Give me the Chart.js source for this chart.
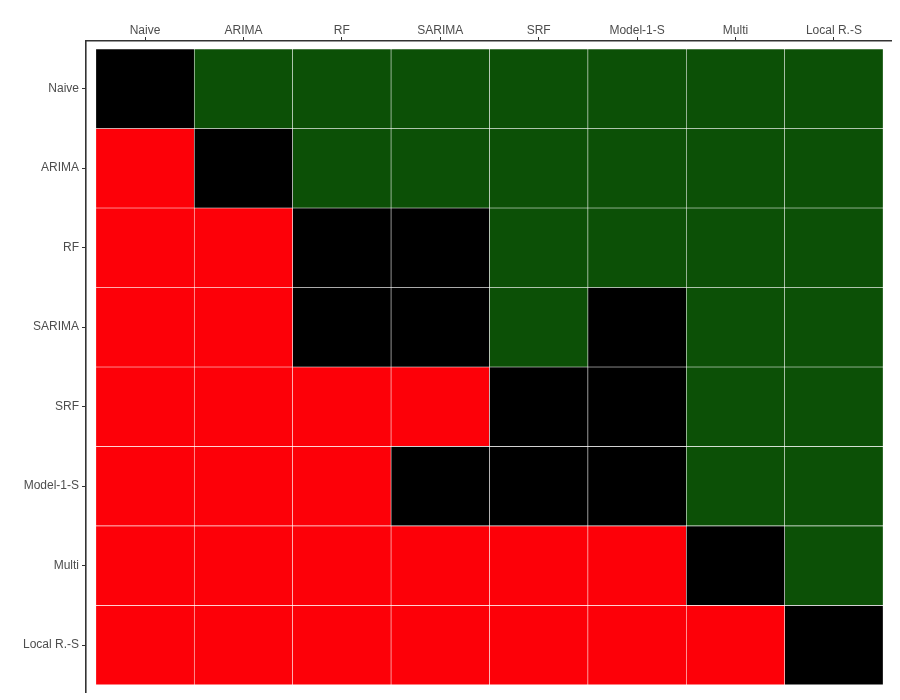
<!DOCTYPE html>
<html>
<head>
<meta charset="utf-8">
<script src="https://cdn.jsdelivr.net/npm/chart.js@4"></script>
<style>
  html, body { margin: 0; padding: 0; background: #fff; }
  #wrap { width: 900px; height: 700px; }
</style>
</head>
<body>
<div id="wrap"><canvas id="heat" width="900" height="700"></canvas></div>
<script>
const models = ['Naive', 'ARIMA', 'RF', 'SARIMA', 'SRF', 'Model-1-S', 'Multi', 'Local R.-S'];

// 1 = row model better (green), -1 = worse (red), 0 = no significant difference (black)
const naiveRow   = [ 0,  1,  1,  1,  1,  1,  1,  1];
const arimaRow   = [-1,  0,  1,  1,  1,  1,  1,  1];
const rfRow      = [-1, -1,  0,  0,  1,  1,  1,  1];
const sarimaRow  = [-1, -1,  0,  0,  1,  0,  1,  1];
const srfRow     = [-1, -1, -1, -1,  0,  0,  1,  1];
const model1sRow = [-1, -1, -1,  0,  0,  0,  1,  1];
const multiRow   = [-1, -1, -1, -1, -1, -1,  0,  1];
const localRow   = [-1, -1, -1, -1, -1, -1, -1,  0];

const matrix = [naiveRow, arimaRow, rfRow, sarimaRow, srfRow, model1sRow, multiRow, localRow];

const colorFor = v => v > 0 ? '#0c5006' : (v < 0 ? '#fd0008' : '#000000');

const datasets = matrix.map((row, r) => ({
  label: models[r],
  data: row.map((v, c) => ({ x: c, y: [r - 0.5, r + 0.5] })),
  backgroundColor: row.map(colorFor),
  borderColor: 'rgba(255,255,255,0.5)',
  borderWidth: 0.6,
  borderSkipped: false,
  grouped: false,
  categoryPercentage: 1,
  barPercentage: 1
}));

const tickFont = { family: '"Liberation Sans", Arial, sans-serif', size: 12 };

new Chart(document.getElementById('heat'), {
  type: 'bar',
  data: { datasets },
  options: {
    responsive: false,
    animation: false,
    layout: { padding: { left: 0, right: 9, top: 0, bottom: 8 } },
    plugins: { legend: { display: false }, tooltip: { enabled: false } },
    scales: {
      x: {
        type: 'linear',
        position: 'top',
        min: -0.6,
        max: 7.58,
        offset: false,
        afterBuildTicks: s => { s.ticks = models.map((_, i) => ({ value: i })); },
        afterFit: s => { s.height = 41; },
        ticks: {
          autoSkip: false,
          maxRotation: 0,
          padding: -1,
          color: '#4d4d4d',
          font: tickFont,
          callback: v => models[v]
        },
        grid: { offset: false, drawOnChartArea: false, drawTicks: true, tickLength: 4, color: '#333', lineWidth: 1 },
        border: { display: true, color: '#333', width: 1.6 }
      },
      y: {
        type: 'linear',
        reverse: true,
        min: -0.6,
        max: 7.59,
        afterBuildTicks: s => { s.ticks = models.map((_, i) => ({ value: i })); },
        afterFit: s => { s.width = 86; s.paddingTop = 0; s.paddingBottom = 0; },
        ticks: {
          autoSkip: false,
          padding: 3,
          color: '#4d4d4d',
          font: tickFont,
          callback: v => models[v]
        },
        grid: { drawOnChartArea: false, drawTicks: true, tickLength: 4, color: '#333', lineWidth: 1 },
        border: { display: true, color: '#333', width: 1.6 }
      }
    }
  }
});
</script>
</body>
</html>
